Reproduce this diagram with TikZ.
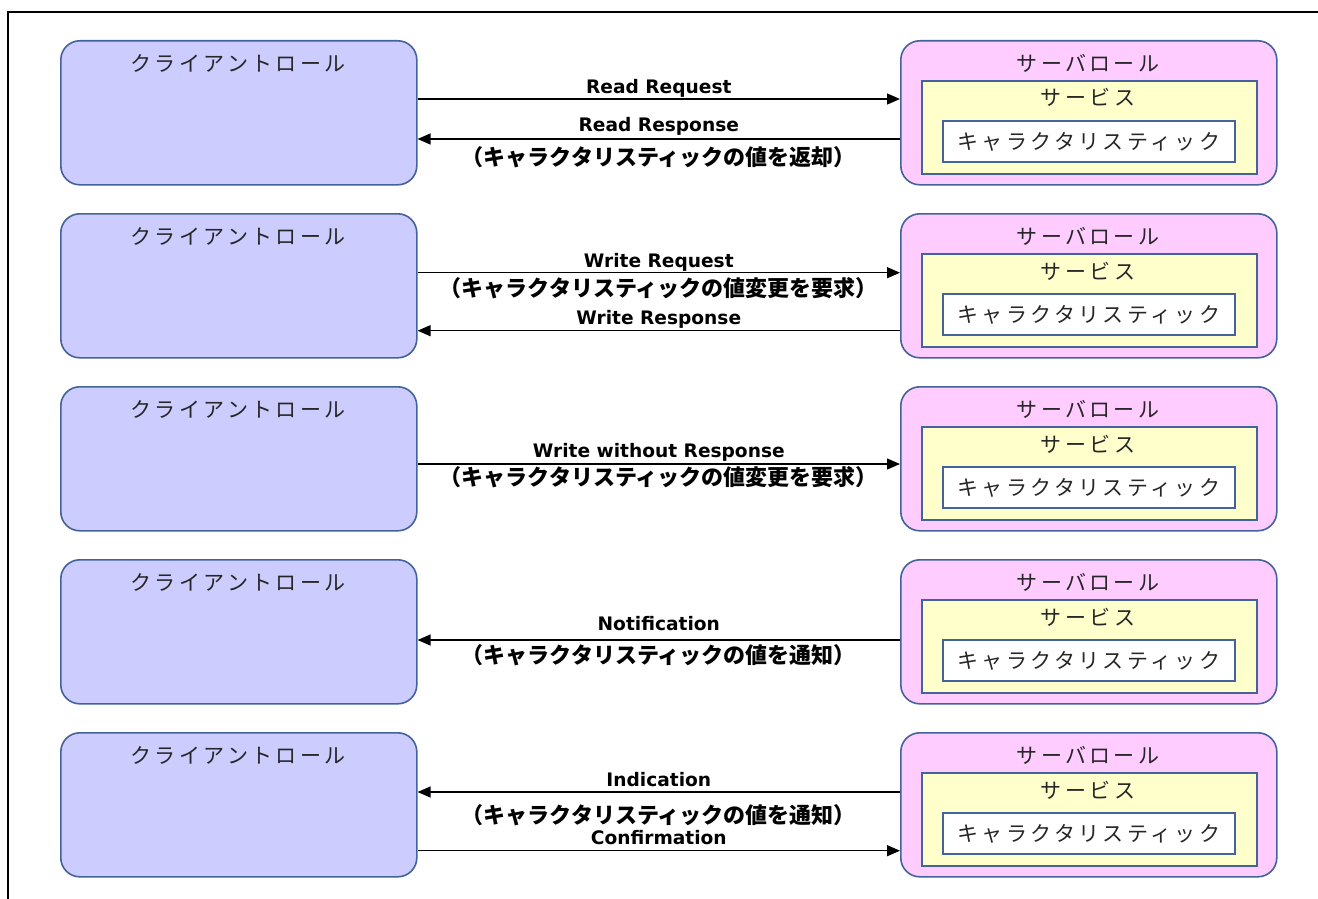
\documentclass[tikz,border=0pt]{standalone}
\usepackage{fontspec}
\usepackage{tikz}
\usetikzlibrary{positioning,arrows.meta}
\newfontfamily\jpfont[LetterSpace=16]{Noto Sans CJK JP}
\newfontfamily\jplabelfont{Noto Sans CJK JP}
\newfontfamily\msgfont{DejaVu Sans}
\definecolor{roleedge}{RGB}{68,98,156}
\definecolor{clientfill}{RGB}{204,204,255}
\definecolor{serverfill}{RGB}{255,204,255}
\definecolor{servicefill}{RGB}{255,255,204}
\tikzset{%
  role box/.style={
    draw=roleedge,
    line width=1.6pt,
    anchor=north west,
    inner sep=0pt
  },
  client role/.style={
    role box,
    rounded corners=19pt,
    fill=clientfill,
    minimum width=356pt,
    minimum height=144pt
  },
  server role/.style={
    role box,
    rounded corners=19pt,
    fill=serverfill,
    minimum width=376pt,
    minimum height=144pt
  },
  service box/.style={
    role box,
    fill=servicefill,
    minimum width=335pt,
    minimum height=93pt
  },
  chara box/.style={
    role box,
    fill=white,
    minimum width=292pt,
    minimum height=41pt,
    font=\jpfont\fontsize{21pt}{21pt}\selectfont,
    text=black!85,
    text height=18.5pt,
    text depth=2.5pt
  },
  box title/.style={
    font=\jpfont\fontsize{21pt}{21pt}\selectfont,
    text=black!85,
    inner sep=0pt,
    text height=18.5pt,
    text depth=2.5pt
  },
  msg/.style={line width=1.3pt, ->},
  msg label/.style={
    font=\msgfont\bfseries\fontsize{18.6pt}{18pt}\selectfont,
    inner sep=0pt,
    text height=13.6pt,
    text depth=0pt
  },
  jp label/.style={
    font=\jplabelfont\bfseries\fontsize{22pt}{22pt}\selectfont,
    inner sep=0pt,
    text height=19.4pt,
    text depth=2.6pt
  },
}

\begin{document}
\begin{tikzpicture}[> = {Triangle[length=13pt,width=11pt]}, x=1pt, y=-1pt]
\useasboundingbox (0,0) rectangle (1318,899);
\draw[line width=2pt] (1318,12) -- (8,12) -- (8,899);
    \foreach \row in {1,2,3,4,5} {
        \pgfmathsetmacro{\t}{40+173*(\row-1)}
        \node[client role] (client_\row) at (60,\t) {};
        \node[box title] (clienttitle_\row) at (238,\t+23) {クライアントロール};
        \node[server role] (server_\row) at (900,\t) {};
        \node[box title] (servertitle_\row) at (1088,\t+23) {サーバロール};
        \node[service box] (service_\row) at (921,\t+40) {};
        \node[box title] (servicetitle_\row) at (1088,\t+58) {サービス};
        \node[chara box] (chara_\row) at (942,\t+80) {キャラクタリスティック};
    }
    \draw[msg] ([yshift=-59pt]client_1.north east) -- node[msg label, yshift=12.3pt] {Read Request} ([yshift=-59pt]server_1.north west);
    \draw[msg] ([yshift=-99pt]server_1.north west) -- node[msg label, yshift=14.3pt] {Read Response}
        node[jp label, yshift=-17.7pt] {（キャラクタリスティックの値を返却）} ([yshift=-99pt]client_1.north east);
    \draw[msg] ([yshift=-59.7pt]client_2.north east) -- node[msg label, yshift=12pt] {Write Request}
        node[jp label, yshift=-15.3pt] {（キャラクタリスティックの値変更を要求）} ([yshift=-59.7pt]server_2.north west);
    \draw[msg] ([yshift=-117.7pt]server_2.north west) -- node[msg label, yshift=12.7pt] {Write Response} ([yshift=-117.7pt]client_2.north east);
    \draw[msg] ([yshift=-78pt]client_3.north east) -- node[msg label, yshift=13pt] {Write without Response}
        node[jp label, yshift=-13pt] {（キャラクタリスティックの値変更を要求）} ([yshift=-78pt]server_3.north west);
    \draw[msg] ([yshift=-81pt]server_4.north west) -- node[msg label, yshift=16pt] {Notification}
        node[jp label, yshift=-15pt] {（キャラクタリスティックの値を通知）} ([yshift=-81pt]client_4.north east);
    \draw[msg] ([yshift=-60pt]server_5.north west) -- node[msg label, yshift=12pt] {Indication}
        node[jp label, yshift=-23pt] {（キャラクタリスティックの値を通知）} ([yshift=-60pt]client_5.north east);
    \draw[msg] ([yshift=-118.7pt]client_5.north east) -- node[msg label, yshift=12.7pt] {Confirmation} ([yshift=-118.7pt]server_5.north west);
\end{tikzpicture}
\end{document}
